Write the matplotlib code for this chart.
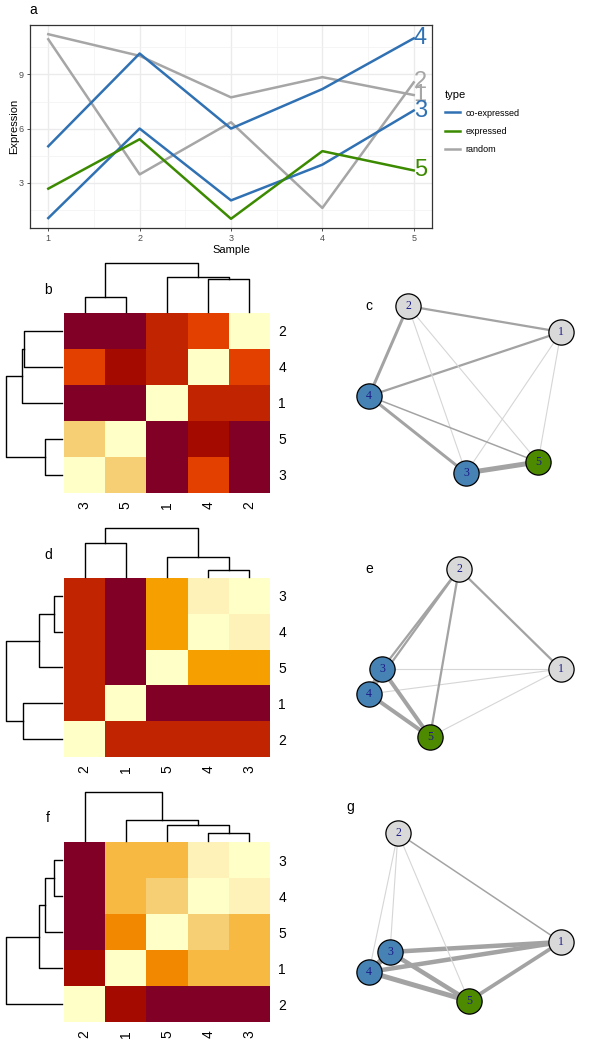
import numpy as np
import matplotlib.pyplot as plt
from matplotlib.colors import ListedColormap, BoundaryNorm
from matplotlib.lines import Line2D

plt.rcParams['font.family'] = ['Liberation Sans', 'DejaVu Sans']

# ---- panel a: expression profiles ----
samples = [1, 2, 3, 4, 5]
gene1 = [11.23, 10.03, 7.73, 8.85, 7.86]
gene2 = [10.95, 3.46, 6.35, 1.60, 8.56]
gene3 = [1.04, 6.00, 2.02, 4.00, 7.00]
gene4 = [5.02, 10.16, 6.00, 8.19, 11.00]
gene5 = [2.67, 5.41, 1.00, 4.75, 3.68]
gene_type = ['random', 'random', 'co-expressed', 'co-expressed', 'expressed']
type_colors = {'co-expressed': '#3071B3', 'expressed': '#3B8A00', 'random': '#A6A6A6'}

# ---- correlation matrices (genes 1..5) ----
corr_b = [[1.0, 0.25, -0.2, 0.25, -0.2],
          [0.25, 1.0, -0.2, 0.4, -0.2],
          [-0.2, -0.2, 1.0, 0.4, 0.8],
          [0.25, 0.4, 0.4, 1.0, 0.1],
          [-0.2, -0.2, 0.8, 0.1, 1.0]]
corr_d = [[1.0, 0.25, -0.2, -0.2, -0.2],
          [0.25, 1.0, 0.25, 0.25, 0.25],
          [-0.2, 0.25, 1.0, 0.9, 0.6],
          [-0.2, 0.25, 0.9, 1.0, 0.6],
          [-0.2, 0.25, 0.6, 0.6, 1.0]]
corr_f = [[1.0, 0.1, 0.7, 0.7, 0.55],
          [0.1, 1.0, -0.2, -0.2, -0.2],
          [0.7, -0.2, 1.0, 0.9, 0.7],
          [0.7, -0.2, 0.9, 1.0, 0.8],
          [0.55, -0.2, 0.7, 0.8, 1.0]]

# hierarchical clustering trees: (left, right, height)
tree_b = ((3, 5, 0.30), (1, (4, 2, 0.675), 0.71), 1.0)
tree_d = ((2, 1, 0.70), (5, (4, 3, 0.14), 0.41), 1.0)
tree_f = (2, (1, (5, (4, 3, 0.15), 0.315), 0.415), 1.0)

heat_colors = ['#800026', '#A50A00', '#C02400', '#E34000', '#F28800', '#F5A000',
               '#F7B942', '#F6CE73', '#FFF2B8', '#FFFFC8']
heat_bounds = [-1, 0, 0.15, 0.3, 0.5, 0.58, 0.65, 0.75, 0.85, 0.95, 1.01]
cmap = ListedColormap(heat_colors)
norm = BoundaryNorm(heat_bounds, cmap.N)

# network layouts (x, y) for genes 1..5
layout_c = [(561, 332), (408, 306), (466, 473), (369, 396), (538, 462)]
layout_e = [(561, 669), (459, 569), (382, 669), (369, 694), (430, 737)]
layout_g = [(561, 942), (398, 833), (390, 952), (369, 972), (469, 1001)]
node_colors = {'co-expressed': '#4682B4', 'expressed': '#4E8A00', 'random': '#D9D9D9'}

W, H = 601, 1050
fig = plt.figure(figsize=(W / 100, H / 100), dpi=100)


def px_axes(x0, y0, x1, y1):
    return fig.add_axes([x0 / W, 1 - y1 / H, (x1 - x0) / W, (y1 - y0) / H])


# ---------------- panel a ----------------
ax = px_axes(30, 25, 432, 228)
genes = [gene1, gene2, gene3, gene4, gene5]
for i, vals in enumerate(genes):
    c = type_colors[gene_type[i]]
    ax.plot(samples, vals, color=c, lw=1.8, zorder=3)
    ax.text(samples[-1], vals[-1], str(i + 1), color=c, fontsize=17,
            ha='left', va='center', zorder=4)
ax.set_xlim(0.8, 5.2)
ax.set_ylim(0.49, 11.74)
ax.set_xticks(samples)
ax.set_yticks([3, 6, 9])
ax.set_xticks([1.5, 2.5, 3.5, 4.5], minor=True)
ax.set_yticks([1.5, 4.5, 7.5, 10.5], minor=True)
ax.grid(which='major', color='#EBEBEB', lw=1.0)
ax.grid(which='minor', color='#F2F2F2', lw=0.5)
ax.set_axisbelow(True)
ax.tick_params(which='major', length=2.5, width=0.6, color='#333333',
               labelsize=6.5, labelcolor='#4D4D4D', pad=2)
ax.tick_params(which='minor', length=0)
for s in ax.spines.values():
    s.set_color('#333333')
    s.set_linewidth(0.9)
ax.set_xlabel('Sample', fontsize=8, labelpad=1)
ax.set_ylabel('Expression', fontsize=8, labelpad=0)
fig.text(33 / W, 1 - 10 / H, 'a', fontsize=10, ha='center', va='center')

handles = [Line2D([], [], color=type_colors[t], lw=1.8) for t in ['co-expressed', 'expressed', 'random']]
fig.legend(handles, ['co-expressed', 'expressed', 'random'], title='type',
           loc='upper left', bbox_to_anchor=(441 / W, 1 - 86 / H), frameon=False,
           fontsize=6.5, title_fontsize=8, handlelength=1.7, labelspacing=1.0,
           alignment='left', handletextpad=0.6, borderaxespad=0)


# ---------------- heatmaps ----------------
def leaf_order(node):
    if isinstance(node, int):
        return [node]
    return leaf_order(node[0]) + leaf_order(node[1])


def dend_segments(node, order):
    if isinstance(node, int):
        return order.index(node), 0.0, []
    l, r, h = node
    xl, hl, sl = dend_segments(l, order)
    xr, hr, sr = dend_segments(r, order)
    return (xl + xr) / 2, h, sl + sr + [([xl, xl, xr, xr], [hl, h, h, hr])]


def heatmap(corr, tree, top, bottom, label, label_y):
    order = leaf_order(tree)
    idx = [g - 1 for g in order]
    m = np.array(corr)[np.ix_(idx, idx)]
    hx = px_axes(64, top, 270, bottom)
    hx.imshow(m, cmap=cmap, norm=norm, origin='lower', aspect='auto',
              extent=(-0.5, 4.5, -0.5, 4.5), interpolation='nearest')
    hx.set_xticks(range(5))
    hx.set_xticklabels([str(g) for g in order], rotation=90, fontsize=10)
    hx.yaxis.tick_right()
    hx.set_yticks(range(5))
    hx.set_yticklabels([str(g) for g in order], fontsize=10)
    hx.tick_params(length=0, pad=6)
    for s in hx.spines.values():
        s.set_visible(False)

    _, _, segs = dend_segments(tree, order)
    cx = px_axes(64, top - 50, 270, top)
    for xs, hs in segs:
        cx.plot(xs, hs, color='black', lw=1.0, clip_on=False)
    cx.set_xlim(-0.5, 4.5)
    cx.set_ylim(-0.03, 1.0)
    cx.axis('off')

    rx = px_axes(6, top, 64, bottom)
    for xs, hs in segs:
        rx.plot(hs, xs, color='black', lw=1.0, clip_on=False)
    rx.set_ylim(-0.5, 4.5)
    rx.set_xlim(1.0, -0.03)
    rx.axis('off')

    fig.text(48 / W, 1 - label_y / H, label, fontsize=10, ha='center', va='center')


heatmap(corr_b, tree_b, 313, 493, 'b', 290)
heatmap(corr_d, tree_d, 578, 757, 'd', 555)
heatmap(corr_f, tree_f, 842, 1022, 'f', 818)


# ---------------- networks ----------------
def network(corr, layout, y0, y1, label, label_xy):
    nx = px_axes(300, y0, 601, y1)
    nx.set_xlim(300, 601)
    nx.set_ylim(y1, y0)
    nx.axis('off')
    xs = [p[0] for p in layout]
    ys = [p[1] for p in layout]
    for i in range(5):
        for j in range(i + 1, 5):
            r = corr[i][j]
            if r < 0:
                col, lw = '#D6D6D6', 0.8
            else:
                col, lw = '#A3A3A3', 0.72 * (1 + 5 * r)
            nx.plot([xs[i], xs[j]], [ys[i], ys[j]], color=col, lw=lw,
                    solid_capstyle='butt', zorder=1)
    for i in range(5):
        nx.scatter(xs[i], ys[i], s=330, color=node_colors[gene_type[i]],
                   edgecolors='black', linewidths=0.9, zorder=2 + i)
        nx.text(xs[i], ys[i], str(i + 1), color='#1C1C8A', fontsize=8.5,
                family='Liberation Serif', ha='center', va='center', zorder=2 + i)
    nx.text(label_xy[0], label_xy[1], label, fontsize=10, ha='center', va='center')


network(corr_b, layout_c, 260, 520, 'c', (369, 306))
network(corr_d, layout_e, 520, 780, 'e', (369, 569))
network(corr_f, layout_g, 780, 1050, 'g', (350, 807))

fig.savefig('out.png', dpi=100)
